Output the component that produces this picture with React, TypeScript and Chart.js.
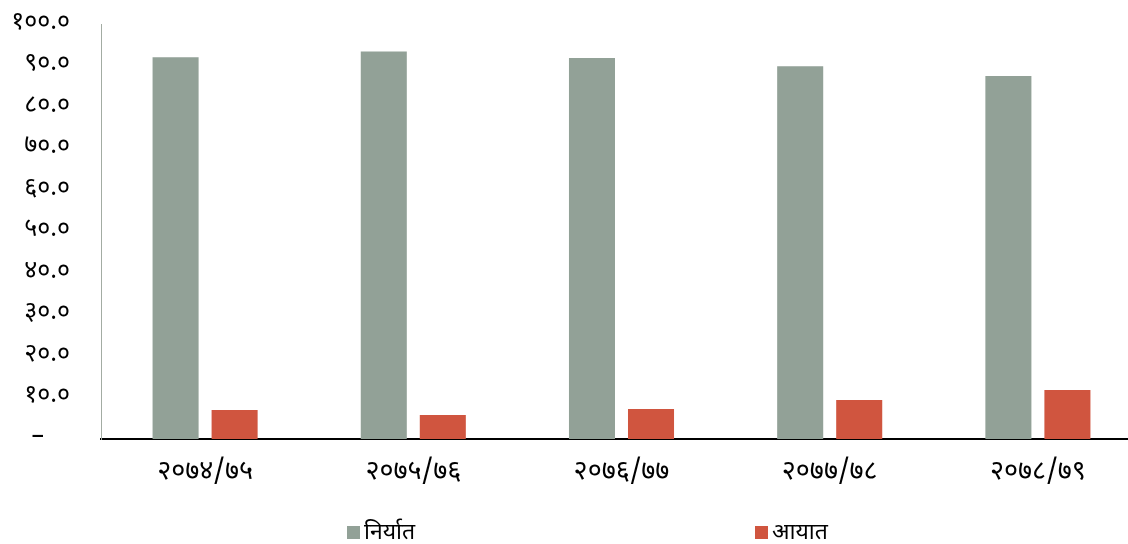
import React, { useEffect, useRef } from 'react';
import { Chart, registerables } from 'chart.js';

Chart.register(...registerables);

const categories = ['२०७४/७५', '२०७५/७६', '२०७६/७७', '२०७७/७८', '२०७८/७९'];
const exportValues = [92.0, 93.4, 91.8, 89.8, 87.5];
const importValues = [7.0, 5.8, 7.2, 9.4, 11.8];
const seriesLabels = ['निर्यात', 'आयात'];
const seriesColors = ['#92A197', '#D0553F'];

const devDigits = ['०', '१', '२', '३', '४', '५', '६', '७', '८', '९'];
const toDev = (s: string) => s.replace(/[0-9]/g, (d) => devDigits[Number(d)]);

const FONT = "'Noto Sans Devanagari', 'Noto Sans', 'DejaVu Sans', sans-serif";

const legendPlugin = {
  id: 'customLegend',
  afterDraw(chart: any) {
    const ctx = chart.ctx;
    const positions = [347, 755];
    const y = 532;
    ctx.save();
    chart.data.datasets.forEach((ds: any, i: number) => {
      const x = positions[i];
      ctx.fillStyle = ds.backgroundColor;
      ctx.fillRect(x, y - 6, 13, 13);
      ctx.fillStyle = '#000';
      ctx.font = `23px ${FONT}`;
      ctx.textBaseline = 'middle';
      ctx.textAlign = 'left';
      ctx.fillText(ds.label, x + 17, y + 3);
    });
    ctx.restore();
  },
};

export default function App() {
  const ref = useRef<HTMLCanvasElement>(null);
  useEffect(() => {
    document.body.style.overflow = 'hidden';
    const chart = new Chart(ref.current!, {
      type: 'bar',
      data: {
        labels: categories,
        datasets: [
          { label: seriesLabels[0], data: exportValues, backgroundColor: seriesColors[0] },
          { label: seriesLabels[1], data: importValues, backgroundColor: seriesColors[1] },
        ],
      },
      options: {
        animation: false,
        responsive: false,
        maintainAspectRatio: false,
        layout: { padding: { top: 24, bottom: 55, left: 0, right: 0 } },
        datasets: {
          bar: { categoryPercentage: 0.567, barPercentage: 0.78 },
        },
        plugins: {
          legend: { display: false },
          tooltip: { enabled: false },
        },
        scales: {
          x: {
            afterFit: (s: any) => { s.height = 50; s.paddingLeft = 0; s.paddingRight = 0; },
            grid: { display: false, drawTicks: false },
            border: { display: true, color: '#000', width: 2 },
            ticks: { color: '#000', font: { size: 27, family: FONT }, padding: 19 },
          },
          y: {
            min: 0,
            max: 100,
            afterFit: (s: any) => { s.width = 101; s.paddingTop = 0; s.paddingBottom = 0; },
            grid: { display: false, drawTicks: false },
            border: { display: true, color: '#A3ACA3', width: 1 },
            ticks: {
              stepSize: 10,
              color: '#000',
              font: { size: 25, family: FONT },
              padding: 31,
              callback: (v: any) => (Number(v) === 0 ? '–    ' : toDev(Number(v).toFixed(1))),
            },
          },
        },
      },
      plugins: [legendPlugin],
    });
    return () => chart.destroy();
  }, []);
  return (
    <div style={{ position: 'absolute', left: 0, top: 0, width: 1128, height: 544, overflow: 'hidden', background: '#fff' }}>
      <canvas ref={ref} width={1142} height={544} style={{ display: 'block' }} />
    </div>
  );
}
